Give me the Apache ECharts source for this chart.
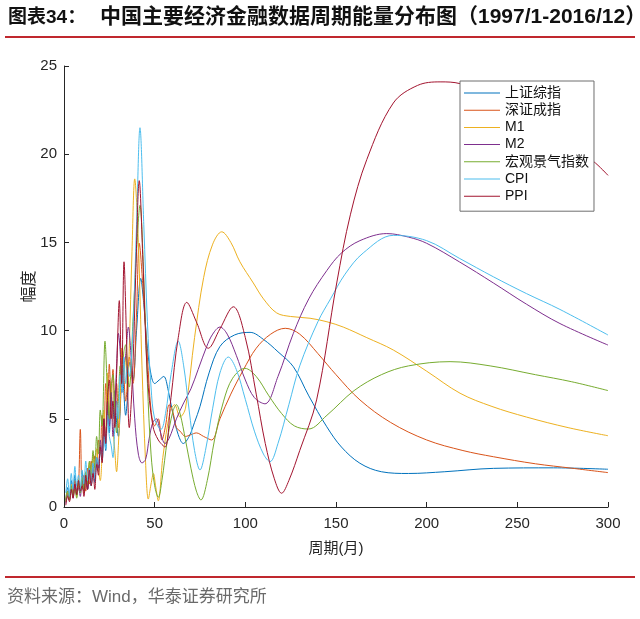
<!DOCTYPE html>
<html><head><meta charset="utf-8">
<script src="https://cdn.jsdelivr.net/npm/echarts/dist/echarts.min.js"></script>
<style>html,body{margin:0;padding:0;background:#fff}#c{width:640px;height:619px}</style>
</head><body><div id="c"></div>
<script>
const titleLead = '图表34：';
const titleMain = '中国主要经济金融数据周期能量分布图（1997/1-2016/12）';
const sourceText = '资料来源：Wind，华泰证券研究所';
const xName = '周期(月)';
const yName = '幅度';
const seriesNames = ['上证综指', '深证成指', 'M1', 'M2', '宏观景气指数', 'CPI', 'PPI'];
const seriesColors = ['#0072BD', '#D95319', '#EDB120', '#7E2F8E', '#77AC30', '#4DBEEE', '#A2142F'];

const shIndex = [[1,0.4],[2,1.1],[3,0.6],[4,1.5],[5,0.7],[6,1.8],[7,0.9],[8,1.3],[9,0.8],[10,2.0],[11,1.1],[12,1.8],[13,1.0],[14,2.3],[15,1.2],[16,2.1],[17,1.4],[18,2.7],[19,2.0],[20,3.5],[21,2.6],[22,4.3],[23,3.2],[24,5.5],[25,4.2],[26,6.2],[27,5.0],[28,6.6],[29,4.8],[30,4.0],[31,5.5],[32,8.0],[33,6.5],[34,5.2],[35,6.2],[36,8.2],[38,7.2],[40,10.0],[42.3,12.96],[44,11.5],[46,9.0],[48,7.5],[50,7.0],[52.5,7.2],[55,7.4],[57.5,6.6],[60,5.3],[63,4.1],[65.8,3.6],[69,4.0],[72,4.8],[75,5.7],[80,7.6],[86,9.1],[94,9.75],[102.6,9.9],[110,9.5],[118,8.8],[126.5,7.95],[135,6.3],[144.9,4.55],[153,3.4],[163.2,2.48],[175,2.0],[190,1.9],[210,2.0],[236.8,2.19],[270,2.22],[300,2.14]];

const szIndex = [[1,0.3],[2,0.8],[3,0.5],[4,1.2],[5,0.6],[6,1.5],[7,0.8],[8,1.2],[9,4.4],[10,1.0],[11,1.8],[12,0.9],[13,2.2],[14,1.3],[15,2.6],[16,1.7],[17,2.9],[18,2.3],[19,3.8],[20,3.0],[21,5.2],[22,4.0],[23,7.0],[24,5.5],[25,8.1],[26,6.2],[27,7.8],[28,5.8],[29,7.0],[30,4.5],[31,5.8],[32,9.0],[33,7.5],[34,6.0],[35,7.0],[36,8.5],[38,7.0],[40,11.0],[41.5,14.95],[43.5,12.5],[46,8.5],[48,5.5],[50,4.6],[52,5.0],[54,3.8],[56,4.6],[58,5.8],[60,5.4],[62,4.5],[64,4.3],[67,4.0],[70,4.1],[73,4.2],[77,4.0],[81.4,3.8],[86,5.0],[92,6.4],[98.9,7.77],[106,9.0],[114,9.8],[122,10.13],[130,9.8],[140,8.7],[150,7.5],[163.2,6.07],[180,4.8],[200,3.8],[220,3.2],[236.8,2.85],[260,2.45],[280,2.2],[300,1.95]];

const m1 = [[1,0.5],[2,0.9],[3,0.4],[4,1.3],[5,0.7],[6,1.1],[7,0.6],[8,1.6],[9,0.9],[10,1.4],[11,0.8],[12,1.9],[13,1.2],[14,2.5],[15,1.4],[16,3.0],[17,2.0],[18,3.3],[19,2.2],[20,1.5],[21,3.0],[22,5.5],[23,4.0],[24,7.6],[25,5.2],[26,7.0],[27,4.5],[28,3.2],[29,2.0],[30,3.5],[31,6.0],[32,9.0],[33,7.5],[34,8.5],[35,6.5],[36,9.0],[37.5,14.5],[39,18.6],[41,15.0],[43,8.0],[45,2.5],[46.5,0.45],[48,1.3],[49.3,1.9],[50.5,1.2],[52,0.35],[54.5,2.8],[58.5,5.4],[61,5.8],[64,5.1],[67,5.6],[72,9.6],[77,13.0],[82,14.9],[87,15.6],[92,15.0],[97,13.9],[104.4,12.7],[110,11.8],[117.3,11.0],[125,10.8],[135.7,10.7],[145,10.5],[154,10.2],[167,9.6],[181.6,8.9],[200,7.7],[218.4,6.45],[236,5.7],[255,5.1],[278,4.5],[300,4.04]];

const m2 = [[1,0.2],[2,0.7],[3,0.4],[4,1.0],[5,0.5],[6,1.3],[7,0.7],[8,1.1],[9,0.6],[10,1.5],[11,0.9],[12,1.6],[13,1.0],[14,2.0],[15,1.3],[16,2.4],[17,1.6],[18,2.8],[19,2.2],[20,3.8],[21,3.0],[22,5.0],[23,3.8],[24,6.0],[25,4.6],[26,6.5],[27,4.0],[28,5.5],[29,8.0],[30,9.85],[31,8.8],[32,6.5],[33,8.0],[34,8.6],[35.5,10.2],[37,8.5],[39,5.0],[41,3.0],[43,2.5],[45,2.7],[47,3.9],[49,4.8],[51,5.0],[53,4.3],[55.7,3.6],[58,3.9],[62,5.0],[66,5.9],[70,6.7],[74,7.8],[78.7,9.1],[82,9.8],[86,10.2],[90,9.8],[95,8.6],[100,7.2],[105,6.2],[110.8,5.85],[118,7.4],[126.5,9.85],[135,11.8],[144.9,13.4],[153,14.4],[163.2,15.1],[178,15.5],[190,15.3],[200,14.95],[218,13.9],[236.8,12.7],[255,11.5],[273.5,10.4],[300,9.18]];

const macro = [[1,0.3],[2,0.9],[3,0.4],[4,1.2],[5,0.6],[6,1.0],[7,0.5],[8,1.4],[9,0.8],[10,1.7],[11,1.0],[12,2.0],[13,1.3],[14,2.6],[15,1.8],[16,3.2],[17,2.2],[18,4.0],[19,3.0],[20,5.5],[21,4.6],[22.6,9.4],[24,6.5],[25,5.0],[26,6.8],[27,7.5],[28,5.5],[29,4.2],[30,6.0],[31,8.0],[32,7.0],[33,8.8],[34,9.2],[35,7.5],[36,6.8],[38,10.5],[40,14.5],[41.9,17.1],[44,13.0],[46,7.0],[48,3.0],[50,1.2],[52,0.55],[54,1.5],[57,3.8],[60,5.4],[62,5.8],[64,5.3],[67,3.8],[70,2.2],[73,0.9],[75.5,0.4],[79,1.5],[83,3.8],[88,6.0],[93,7.3],[99.8,7.86],[106,7.4],[113,6.3],[120,5.3],[127,4.6],[134.8,4.42],[145,5.2],[160,6.6],[175,7.5],[190,8.0],[212.9,8.24],[235,8.0],[260,7.5],[280,7.1],[300,6.6]];

const cpi = [[1,0.8],[2,1.6],[3,0.6],[4,1.9],[5,1.0],[6,2.3],[7,1.2],[8,1.8],[9,0.9],[10,2.1],[11,1.3],[12,2.6],[13,1.5],[14,2.2],[15,1.2],[16,2.5],[17,1.6],[18,2.8],[19,2.4],[20,3.2],[21,2.6],[22,4.0],[23,3.3],[24,5.2],[25,4.0],[26,3.5],[27,2.8],[28,4.5],[29,6.0],[30,5.0],[31,7.5],[32,6.5],[33,8.5],[34,7.0],[35,8.0],[36,7.4],[38,10.0],[40,16.0],[41.9,21.5],[44,16.0],[46,10.5],[48,6.8],[50,5.0],[53.5,4.4],[56,5.3],[59,7.5],[63,9.4],[66,8.0],[69,5.5],[72,3.2],[75,2.1],[78,3.2],[82,5.6],[86,7.6],[90.6,8.5],[95,7.8],[100,6.1],[105,4.3],[110,3.0],[113.6,2.57],[118,3.6],[124,5.8],[130,8.0],[140,10.5],[147,11.8],[155,13.2],[165,14.4],[181.6,15.4],[200,15.1],[218,14.1],[236.8,13.05],[255,12.1],[273.5,11.2],[300,9.75]];

const ppi = [[1,0.1],[2,0.6],[3,0.3],[4,1.0],[5,0.5],[6,1.3],[7,0.7],[8,1.5],[9,0.9],[10,1.2],[11,0.6],[12,1.8],[13,1.0],[14,2.1],[15,1.2],[16,1.9],[17,1.0],[18,2.4],[19,1.8],[20,3.4],[21,2.5],[22,5.0],[23,3.6],[24,6.2],[25,7.2],[26,5.0],[27,6.0],[28,4.5],[29,7.5],[30.5,11.7],[31.8,7.0],[33.1,13.9],[34.5,9.5],[36,4.5],[38,8.0],[39.5,13.0],[41.5,18.5],[43.5,14.0],[46,7.5],[49,4.6],[52,3.8],[55.7,3.4],[59,6.2],[63,9.6],[67.7,11.6],[73,10.5],[79.6,9.0],[86,10.1],[93.4,11.35],[100,9.6],[106,6.4],[111,3.6],[116,1.6],[120,0.78],[124,1.5],[130,3.2],[139.3,6.07],[150.4,12.7],[158,16.6],[167,19.7],[181.6,22.9],[195,23.9],[207.4,24.1],[218.4,24.0],[240,23.2],[260,21.9],[280,20.4],[291.9,19.6],[300,18.8]];

const seriesData = [shIndex, szIndex, m1, m2, macro, cpi, ppi];
const xTicks = {min: 0, max: 300, interval: 50};
const yTicks = {min: 0, max: 25, interval: 5};

const chart = echarts.init(document.getElementById('c'), null, {renderer: 'canvas'});
const latin = "'Liberation Sans', Arial, 'Noto Sans CJK SC', sans-serif";
const axisColor = '#262626';
chart.setOption({
  animation: false,
  backgroundColor: '#ffffff',
  grid: {left: 64, right: 32, top: 66, bottom: 112, containLabel: false},
  xAxis: {
    type: 'value', min: xTicks.min, max: xTicks.max, interval: xTicks.interval,
    name: xName, nameLocation: 'middle', nameGap: 34, nameMoveOverlap: false,
    nameTextStyle: {fontSize: 15, color: axisColor, fontFamily: latin},
    axisLine: {show: true, lineStyle: {color: axisColor, width: 1}},
    axisTick: {show: true, inside: true, length: 5, lineStyle: {color: axisColor}},
    axisLabel: {fontSize: 15, color: axisColor, margin: 9, fontFamily: latin},
    splitLine: {show: false}
  },
  yAxis: {
    type: 'value', min: yTicks.min, max: yTicks.max, interval: yTicks.interval,
    name: yName, nameLocation: 'middle', nameGap: 26, nameRotate: 90, nameMoveOverlap: false,
    nameTextStyle: {fontSize: 16, color: axisColor, fontFamily: latin},
    axisLine: {show: true, lineStyle: {color: axisColor, width: 1}},
    axisTick: {show: true, inside: true, length: 5, lineStyle: {color: axisColor}},
    axisLabel: {fontSize: 15, color: axisColor, margin: 7, fontFamily: latin},
    splitLine: {show: false}
  },
  legend: {
    data: seriesNames, orient: 'vertical', left: 460, top: 81,
    icon: 'rect', itemWidth: 36, itemHeight: 1, itemGap: 3.2,
    padding: [5, 5, 8, 4],
    backgroundColor: '#ffffff', borderColor: '#6e6e6e', borderWidth: 1,
    textStyle: {fontSize: 14, color: '#111', fontFamily: latin, lineHeight: 14}
  },
  graphic: [
    {type: 'text', left: 8, top: 8, style: {text: titleLead, font: "bold 19px 'Liberation Sans','Noto Sans CJK SC'", fill: '#111'}},
    {type: 'text', left: 100, top: 7, style: {text: titleMain, font: "bold 21px 'Liberation Sans','Noto Sans CJK SC'", fill: '#111'}},
    {type: 'rect', shape: {x: 5, y: 36, width: 630, height: 2}, style: {fill: '#C0282E'}},
    {type: 'rect', shape: {x: 5, y: 576, width: 630, height: 2}, style: {fill: '#C0282E'}},
    {type: 'text', left: 7, top: 589, style: {text: sourceText, font: "17px 'Liberation Sans','Noto Sans CJK SC'", fill: '#6a6a6a'}}
  ],
  series: seriesNames.map((n, i) => ({
    name: n, type: 'line', data: seriesData[i], smooth: 0.35, symbol: 'none', showSymbol: false,
    color: seriesColors[i], lineStyle: {width: 1, color: seriesColors[i]}, z: 2 + i * 0.01
  }))
});
</script></body></html>
